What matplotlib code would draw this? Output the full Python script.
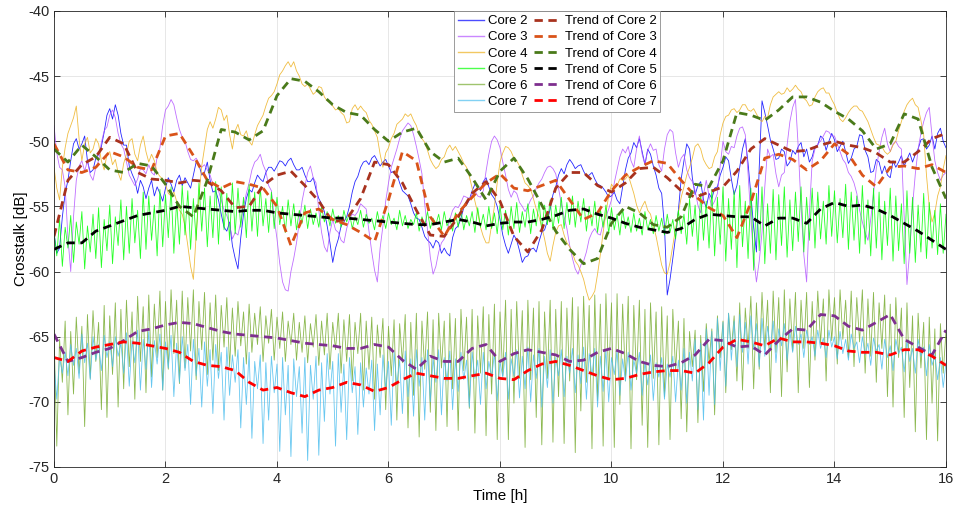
import numpy as np
import matplotlib
matplotlib.use("Agg")
import matplotlib.pyplot as plt

plt.rcParams.update({
    "font.family": ["Liberation Sans", "DejaVu Sans"],
    "font.size": 10,
    "axes.linewidth": 0.6,
    "axes.edgecolor": "#262626",
    "axes.unicode_minus": False,
    "xtick.color": "#262626",
    "ytick.color": "#262626",
})

# ---- data ----
# every curve of the raw cores: readings on the 0.1 h grid (0 ... 16 h)
# plus readings in between (0.05, 0.15, ... 15.95 h)
core2 = [
    -57.0, -58.2, -54.0, -51.5, -49.8, -50.2, -51.5, -52.2, -51.0, -49.3,
    -47.5, -47.2, -49.4, -50.3, -52.5, -54.0, -53.5, -53.6, -54.2, -54.0,
    -53.6, -53.3, -53.0, -53.4, -53.2, -52.6, -51.8, -52.4, -53.0, -53.8,
    -55.6, -56.9, -58.0, -59.8, -55.6, -53.7, -53.2, -52.9, -52.4, -52.0,
    -51.9, -51.6, -51.5, -51.8, -52.2, -52.6, -53.1, -53.7, -54.8, -56.5,
    -59.3, -57.5, -56.2, -55.0, -53.1, -52.0, -51.5, -51.3, -51.5, -51.6,
    -51.9, -52.3, -53.2, -54.0, -54.8, -55.9, -56.6, -57.6, -58.2, -57.8,
    -58.2, -58.8, -56.7, -55.9, -54.9, -53.8, -53.4, -53.1, -53.5, -54.4,
    -56.0, -58.0, -57.9, -57.6, -59.3, -58.8, -58.2, -57.7, -56.8, -55.2,
    -53.5, -52.1, -51.8, -51.7, -51.9, -52.3, -52.6, -52.9, -53.4, -53.9,
    -54.2, -54.5, -53.5, -51.3, -50.1, -49.8, -51.8, -51.0, -52.6, -54.0,
    -61.8, -59.0, -55.3, -51.5, -50.6, -54.1, -53.1, -55.1, -54.4, -53.5,
    -52.0, -51.5, -54.1, -52.0, -49.8, -54.1, -58.5, -46.9, -48.8, -50.6,
    -51.3, -50.8, -51.6, -51.0, -50.1, -50.6, -51.2, -50.3, -49.8, -50.0,
    -49.9, -50.4, -50.8, -51.3, -50.4, -49.6, -51.2, -52.3, -51.6, -51.9,
    -52.8, -52.0, -51.1, -51.4, -51.6, -50.6, -49.8, -50.3, -50.6, -49.0,
    -50.5,
]
core2_mid = [
    -58.6, -55.8, -53.0, -50.2, -50.6, -49.6, -52.4, -51.3, -50.4, -48.0,
    -48.3, -48.0, -50.3, -51.9, -53.0, -53.0, -54.4, -53.0, -53.5, -54.6,
    -52.8, -53.9, -52.6, -52.8, -53.6, -51.6, -52.6, -51.6, -53.9, -54.5,
    -56.6, -56.2, -59.0, -57.4, -54.4, -53.9, -52.6, -53.1, -52.0, -52.3,
    -51.5, -51.9, -51.3, -52.2, -52.0, -53.1, -52.8, -54.4, -55.4, -57.8,
    -58.2, -56.5, -55.8, -53.9, -52.7, -51.6, -51.8, -51.1, -51.9, -51.4,
    -52.4, -52.5, -53.8, -54.2, -55.5, -56.0, -57.3, -57.8, -57.6, -58.6,
    -58.6, -57.4, -56.5, -55.1, -54.5, -53.3, -53.8, -52.8, -54.1, -55.0,
    -57.2, -58.6, -57.2, -58.4, -58.9, -58.3, -58.5, -57.0, -56.1, -54.1,
    -52.6, -52.5, -51.4, -52.1, -51.8, -52.7, -52.4, -53.3, -53.6, -54.3,
    -53.9, -54.8, -52.2, -50.9, -50.5, -50.8, -50.6, -51.9, -53.6, -56.5,
    -60.6, -57.3, -52.9, -50.2, -52.8, -53.4, -54.5, -54.0, -53.6, -52.6,
    -51.2, -52.9, -53.4, -50.6, -51.7, -56.6, -52.0, -47.8, -49.9, -51.4,
    -50.6, -51.9, -50.7, -50.4, -51.2, -51.6, -50.4, -49.6, -50.7, -49.4,
    -50.8, -50.0, -51.7, -50.6, -49.5, -50.7, -52.4, -51.4, -52.5, -52.6,
    -51.5, -51.6, -51.9, -50.9, -51.0, -49.9, -50.6, -49.6, -49.4, -50.0,
]
core3 = [
    -48.8, -52.0, -53.5, -60.0, -53.0, -51.5, -51.5, -53.0, -51.5, -49.2,
    -48.0, -48.2, -50.2, -51.6, -53.0, -52.9, -52.2, -51.8, -52.6, -50.5,
    -47.6, -46.8, -48.2, -49.7, -50.8, -51.5, -51.7, -51.8, -52.6, -53.4,
    -54.5, -55.7, -57.5, -57.2, -55.0, -53.2, -51.6, -51.0, -52.3, -53.8,
    -57.5, -60.8, -61.5, -59.0, -56.2, -53.5, -51.9, -53.2, -57.0, -58.5,
    -56.0, -57.0, -57.8, -56.0, -55.7, -54.8, -55.2, -58.5, -60.8, -56.5,
    -53.2, -51.3, -49.8, -48.9, -48.8, -50.4, -52.5, -56.8, -60.2, -58.5,
    -57.5, -56.0, -55.0, -54.7, -54.3, -54.1, -54.2, -53.8, -51.0, -49.6,
    -50.5, -52.6, -54.3, -54.0, -55.0, -55.0, -54.2, -53.2, -52.4, -51.9,
    -52.5, -54.8, -56.7, -59.0, -60.2, -59.2, -57.5, -56.7, -57.2, -55.8,
    -54.5, -52.2, -50.6, -50.4, -52.0, -49.6, -51.8, -50.2, -50.6, -52.3,
    -49.5, -49.3, -52.0, -51.0, -52.8, -53.8, -55.5, -53.0, -55.0, -54.0,
    -50.0, -51.0, -50.5, -49.0, -49.5, -56.0, -60.8, -57.0, -50.6, -51.0,
    -53.5, -52.4, -48.5, -46.8, -55.0, -60.8, -51.5, -50.2, -49.6, -49.3,
    -49.6, -50.8, -51.7, -52.7, -54.0, -56.2, -57.6, -54.0, -50.8, -49.0,
    -50.8, -50.0, -50.6, -61.0, -55.0, -50.6, -48.5, -47.4, -51.5, -53.0,
    -52.4,
]
core3_mid = [
    -50.9, -52.2, -57.4, -55.8, -51.9, -52.3, -52.6, -52.0, -50.1, -48.9,
    -47.6, -49.4, -50.6, -52.6, -53.4, -52.1, -52.5, -52.4, -51.2, -48.8,
    -47.3, -47.2, -49.1, -50.0, -51.4, -51.3, -52.0, -52.2, -53.3, -53.8,
    -55.3, -56.4, -57.0, -56.2, -54.0, -52.2, -51.4, -51.8, -53.4, -55.9,
    -59.4, -61.4, -60.0, -57.8, -54.6, -52.4, -52.8, -55.3, -58.1, -57.0,
    -56.8, -57.6, -56.7, -55.6, -55.4, -55.0, -56.9, -59.9, -58.2, -54.6,
    -52.0, -50.6, -49.2, -48.6, -49.5, -51.4, -54.8, -58.9, -59.6, -57.8,
    -56.9, -55.3, -55.1, -54.2, -54.4, -53.8, -54.3, -52.3, -50.0, -49.9,
    -51.6, -53.7, -53.8, -54.7, -55.4, -54.5, -53.6, -52.9, -52.0, -52.1,
    -53.6, -55.8, -58.0, -59.8, -59.5, -58.5, -57.0, -57.1, -56.3, -55.2,
    -53.2, -51.2, -50.9, -51.5, -50.6, -51.0, -50.7, -50.7, -51.8, -50.6,
    -49.1, -50.9, -51.3, -52.2, -53.1, -54.9, -54.1, -54.2, -54.6, -51.9,
    -50.8, -50.4, -49.6, -48.9, -52.5, -58.9, -59.2, -53.5, -51.2, -52.5,
    -52.6, -50.3, -47.4, -50.5, -58.7, -55.5, -50.6, -50.0, -49.2, -49.6,
    -50.2, -51.4, -52.4, -53.2, -55.3, -57.0, -56.0, -52.1, -49.7, -50.2,
    -50.2, -50.4, -55.8, -58.4, -52.5, -49.4, -47.8, -49.6, -52.4, -52.6,
]
core4 = [
    -52.0, -54.5, -50.5, -48.8, -47.3, -51.5, -49.7, -50.6, -50.2, -52.2,
    -50.8, -51.4, -53.0, -51.0, -49.8, -51.5, -49.6, -51.6, -51.5, -52.7,
    -53.3, -54.2, -54.6, -55.6, -58.0, -60.6, -54.2, -50.5, -48.5, -48.3,
    -47.6, -48.0, -50.6, -48.7, -49.6, -50.0, -49.5, -48.4, -47.3, -46.5,
    -45.6, -44.6, -43.9, -43.9, -45.0, -45.8, -46.0, -46.2, -45.9, -46.9,
    -47.3, -47.5, -48.0, -48.5, -47.2, -47.3, -47.8, -48.7, -49.7, -52.0,
    -50.5, -49.4, -48.5, -47.9, -47.9, -48.8, -49.8, -50.7, -51.8, -51.9,
    -51.2, -50.3, -50.4, -51.2, -52.0, -53.6, -55.5, -57.3, -57.8, -55.0,
    -51.6, -50.4, -50.8, -51.5, -52.6, -53.4, -54.4, -55.8, -57.5, -59.2,
    -57.0, -56.4, -57.8, -58.6, -59.5, -60.6, -62.2, -61.5, -58.7, -55.5,
    -53.3, -53.4, -53.0, -52.6, -54.0, -55.5, -54.6, -55.6, -57.3, -59.5,
    -60.2, -58.0, -55.5, -53.5, -52.0, -50.4, -50.6, -51.8, -52.0, -50.8,
    -48.6, -48.0, -47.5, -47.6, -47.2, -47.7, -47.9, -48.5, -48.2, -46.6,
    -46.2, -46.3, -46.2, -45.7, -46.2, -46.9, -47.2, -46.2, -45.9, -46.3,
    -47.2, -48.3, -48.2, -47.5, -47.3, -47.7, -48.5, -49.7, -50.3, -50.8,
    -50.8, -50.0, -48.5, -47.2, -46.7, -47.4, -49.5, -55.0, -55.5, -53.5,
    -51.1,
]
core4_mid = [
    -53.6, -52.0, -49.4, -48.2, -49.8, -50.2, -50.9, -49.8, -51.5, -51.0,
    -51.8, -52.4, -51.7, -50.0, -51.0, -50.3, -50.8, -51.0, -52.4, -52.9,
    -54.0, -53.9, -55.3, -56.5, -59.6, -57.2, -51.9, -49.1, -49.0, -47.4,
    -48.4, -49.5, -49.2, -49.5, -49.2, -50.3, -48.8, -48.0, -46.7, -46.2,
    -44.9, -44.2, -44.3, -44.6, -45.6, -45.6, -46.4, -45.8, -46.6, -47.0,
    -47.6, -47.8, -48.6, -47.5, -47.6, -47.6, -48.4, -49.2, -51.0, -50.9,
    -49.8, -48.7, -48.3, -48.1, -48.4, -49.5, -50.1, -51.4, -52.1, -51.4,
    -50.6, -50.7, -50.8, -51.7, -52.7, -54.6, -56.6, -57.8, -56.4, -53.2,
    -50.9, -50.5, -51.3, -51.9, -53.2, -53.7, -55.2, -56.6, -58.6, -58.0,
    -56.5, -57.2, -58.1, -59.2, -60.0, -61.5, -61.9, -60.2, -57.0, -54.2,
    -53.6, -52.9, -52.9, -53.3, -54.9, -55.0, -55.3, -56.5, -58.4, -60.1,
    -59.3, -56.7, -54.3, -52.6, -51.3, -50.2, -51.4, -52.1, -51.2, -49.5,
    -48.1, -47.6, -47.8, -47.2, -47.6, -47.5, -48.3, -48.1, -47.2, -46.4,
    -46.4, -45.9, -46.0, -46.0, -46.7, -47.3, -46.6, -46.0, -46.3, -46.8,
    -47.8, -48.5, -47.8, -47.3, -47.6, -48.1, -49.1, -50.2, -50.4, -51.0,
    -50.3, -49.2, -47.7, -46.9, -47.2, -48.4, -52.6, -56.2, -54.2, -52.1,
]

# fast-fluctuating cores: peaks at 0, 0.1, ... 16 h and dips at 0.05, 0.15, ... 15.95 h
core5_peaks = [
    -57.0, -56.0, -56.6, -55.7, -56.2, -55.4, -56.5, -55.6, -55.1, -56.0,
    -54.9, -55.8, -54.5, -55.0, -54.4, -55.3, -53.9, -54.2, -54.9, -53.7,
    -54.1, -53.5, -54.6, -53.4, -53.8, -54.4, -53.2, -53.6, -54.2, -53.1,
    -53.5, -54.0, -53.2, -53.6, -54.3, -53.3, -53.9, -53.5, -54.4, -53.9,
    -54.3, -55.0, -54.5, -54.8, -55.3, -54.9, -55.2, -55.5, -55.0, -55.4,
    -55.2, -55.7, -55.3, -55.5, -55.8, -55.3, -55.6, -55.9, -55.4, -55.7,
    -55.5, -55.9, -55.3, -55.7, -56.0, -55.5, -55.8, -55.4, -55.9, -55.6,
    -55.4, -55.9, -55.5, -55.2, -55.7, -55.4, -55.1, -55.6, -55.0, -55.5,
    -54.9, -55.3, -55.0, -54.7, -55.4, -54.8, -55.2, -54.6, -54.9, -54.5,
    -54.9, -54.3, -54.7, -54.2, -54.6, -54.4, -55.0, -54.6, -55.2, -54.9,
    -55.1, -55.6, -55.2, -55.8, -55.5, -55.9, -55.4, -56.0, -55.7, -55.9,
    -55.6, -56.0, -55.3, -55.6, -54.4, -54.9, -54.0, -54.6, -53.7, -54.3,
    -53.5, -54.4, -53.8, -53.4, -54.6, -53.6, -54.0, -53.5, -54.8, -53.7,
    -54.1, -53.5, -54.5, -53.9, -53.5, -54.3, -53.6, -53.9, -54.6, -53.4,
    -53.8, -54.4, -53.3, -53.9, -54.2, -53.4, -54.5, -53.6, -53.9, -54.6,
    -53.6, -54.2, -54.8, -53.8, -54.3, -54.9, -54.0, -54.7, -55.3, -54.8,
    -55.6,
]
core5_dips = [
    -58.8, -59.6, -58.2, -59.3, -57.9, -59.8, -58.5, -59.0, -59.7, -58.4,
    -59.4, -58.0, -59.1, -58.6, -57.8, -59.0, -58.3, -57.6, -58.8, -58.1,
    -57.4, -58.6, -57.9, -57.2, -58.3, -57.6, -56.9, -58.1, -57.4, -57.9,
    -56.8, -57.6, -57.1, -56.6, -57.4, -56.9, -57.3, -56.5, -57.0, -56.7,
    -56.4, -57.0, -56.5, -56.8, -56.3, -56.7, -56.4, -56.6, -56.2, -56.5,
    -56.3, -56.6, -56.2, -56.7, -56.4, -56.6, -56.3, -56.8, -56.5, -56.7,
    -56.4, -56.8, -56.5, -56.7, -56.4, -56.9, -56.5, -56.7, -56.4, -56.8,
    -56.5, -56.9, -56.6, -56.8, -56.5, -57.0, -56.6, -56.8, -56.7, -57.1,
    -56.8, -57.2, -56.7, -57.0, -56.6, -57.1, -56.5, -56.9, -56.4, -56.8,
    -56.3, -56.7, -56.4, -56.6, -56.2, -56.9, -56.5, -57.0, -56.6, -57.1,
    -56.8, -57.2, -56.7, -57.0, -56.9, -57.2, -56.8, -57.1, -56.9, -57.2,
    -57.0, -57.5, -57.1, -57.9, -57.3, -58.4, -57.6, -58.2, -58.8, -57.9,
    -59.2, -58.3, -59.7, -58.1, -59.0, -59.9, -58.4, -59.4, -58.6, -59.1,
    -58.0, -58.9, -58.4, -57.7, -58.5, -57.6, -58.2, -57.5, -57.9, -57.3,
    -57.8, -57.4, -58.3, -57.6, -58.6, -57.9, -58.8, -58.2, -59.1, -58.0,
    -59.2, -58.4, -59.4, -58.6, -59.3, -58.5, -59.0, -58.2, -58.7, -58.6,
]
core6_peaks = [
    -64.5, -65.2, -63.8, -64.6, -63.5, -64.2, -63.3, -63.0, -63.9, -62.6,
    -63.4, -62.4, -62.9, -62.2, -63.1, -61.9, -62.7, -61.8, -62.5, -61.5,
    -62.3, -61.4, -62.2, -61.5, -62.0, -61.4, -62.3, -61.6, -62.4, -61.8,
    -62.6, -62.0, -62.8, -62.3, -63.1, -62.5, -63.2, -62.7, -63.4, -62.9,
    -63.5, -63.1, -63.8, -63.2, -63.9, -63.4, -64.0, -63.3, -63.8, -63.2,
    -63.9, -63.2, -63.7, -63.3, -63.9, -63.2, -63.8, -63.5, -64.1, -63.6,
    -64.2, -63.7, -64.0, -63.3, -63.9, -63.2, -63.8, -63.1, -63.7, -63.2,
    -63.8, -63.2, -63.6, -62.9, -63.5, -62.9, -63.4, -62.7, -63.3, -62.5,
    -63.1, -62.2, -62.9, -62.3, -63.0, -62.2, -62.8, -62.3, -63.1, -62.2,
    -62.9, -62.3, -62.8, -62.0, -62.7, -61.9, -62.6, -61.8, -62.5, -61.7,
    -62.4, -61.7, -62.5, -61.9, -62.6, -62.2, -62.9, -62.4, -63.1, -62.7,
    -63.4, -62.9, -63.8, -63.6, -64.6, -64.5, -64.9, -64.0, -64.4, -63.4,
    -63.8, -63.2, -63.4, -62.4, -62.8, -61.9, -62.4, -61.6, -62.2, -61.5,
    -62.0, -61.4, -62.1, -61.6, -62.2, -61.6, -62.3, -61.5, -62.1, -61.4,
    -62.0, -61.4, -62.2, -61.5, -62.0, -61.4, -62.1, -61.6, -62.4, -61.8,
    -62.5, -62.0, -62.8, -62.4, -63.4, -63.2, -63.9, -63.5, -64.4, -64.0,
    -64.6,
]
core6_dips = [
    -73.4, -68.5, -71.0, -69.4, -67.8, -71.9, -68.2, -66.9, -70.6, -71.2,
    -67.9, -70.4, -69.0, -67.3, -69.8, -66.9, -69.3, -68.1, -66.6, -69.1,
    -67.5, -66.3, -68.6, -67.4, -66.1, -68.3, -66.0, -67.9, -66.8, -67.6,
    -65.8, -67.3, -66.5, -65.7, -67.1, -66.2, -65.6, -66.9, -65.5, -66.8,
    -65.9, -66.9, -65.6, -66.8, -66.2, -67.0, -65.8, -67.2, -66.4, -67.5,
    -66.0, -67.8, -66.9, -68.4, -66.3, -69.1, -67.5, -69.8, -66.6, -70.6,
    -68.0, -71.4, -67.0, -72.0, -69.5, -72.7, -67.5, -70.8, -72.2, -67.4,
    -71.9, -69.0, -72.2, -67.6, -70.5, -72.4, -67.8, -72.6, -69.4, -72.9,
    -68.0, -72.9, -70.1, -68.2, -73.5, -68.3, -71.2, -73.3, -68.2, -73.1,
    -69.6, -73.2, -68.4, -73.9, -70.7, -68.5, -73.6, -69.9, -73.4, -68.3,
    -73.5, -70.2, -68.4, -73.6, -68.3, -71.8, -73.5, -68.2, -73.3, -69.6,
    -72.9, -67.6, -71.3, -72.3, -67.3, -71.6, -69.2, -67.0, -71.0, -66.6,
    -69.3, -66.0, -68.4, -69.1, -65.9, -69.0, -67.5, -66.0, -69.3, -66.2,
    -69.6, -67.7, -66.1, -69.3, -65.9, -68.9, -66.8, -65.5, -68.4, -65.3,
    -67.1, -65.2, -66.6, -67.3, -65.4, -67.8, -66.5, -68.5, -65.9, -69.6,
    -70.4, -66.6, -71.2, -68.9, -72.3, -67.4, -72.9, -70.1, -73.0, -67.8,
]
core7_peaks = [
    -67.0, -66.6, -66.2, -65.6, -65.9, -64.8, -65.5, -65.0, -65.6, -64.9,
    -65.4, -65.0, -65.5, -64.7, -65.3, -64.5, -65.2, -64.6, -65.3, -64.8,
    -65.4, -64.9, -65.5, -65.0, -65.6, -65.2, -65.9, -65.4, -66.0, -65.6,
    -66.2, -65.8, -66.4, -66.0, -66.6, -66.2, -66.9, -66.4, -67.0, -66.5,
    -67.1, -66.6, -67.2, -66.7, -67.3, -66.6, -67.2, -66.5, -67.0, -66.3,
    -66.9, -66.3, -67.1, -66.6, -67.3, -67.0, -67.4, -66.8, -67.1, -66.4,
    -66.9, -66.2, -66.8, -66.1, -66.7, -66.0, -66.6, -66.0, -66.7, -66.0,
    -66.6, -66.1, -66.7, -66.2, -66.8, -66.2, -66.8, -66.2, -66.9, -66.3,
    -66.9, -66.2, -66.7, -66.0, -66.5, -65.8, -66.4, -65.9, -66.5, -66.0,
    -66.6, -66.0, -66.5, -65.9, -66.4, -65.8, -66.3, -65.9, -66.5, -66.0,
    -66.6, -66.1, -66.7, -66.2, -66.8, -66.2, -66.9, -66.4, -67.0, -66.6,
    -67.1, -66.5, -66.8, -65.9, -66.2, -65.2, -65.5, -64.4, -64.6, -63.6,
    -63.9, -63.2, -63.8, -63.3, -63.9, -63.4, -64.0, -63.6, -64.2, -63.8,
    -64.4, -64.0, -64.6, -64.2, -64.8, -64.5, -65.0, -64.5, -65.1, -64.5,
    -65.0, -64.6, -65.2, -64.8, -65.4, -65.0, -65.5, -65.1, -65.6, -65.2,
    -65.7, -65.2, -65.8, -65.3, -65.9, -65.2, -65.8, -65.6, -66.4, -66.6,
    -67.0,
]
core7_dips = [
    -69.8, -67.8, -68.0, -67.2, -68.2, -67.0, -68.3, -66.8, -67.6, -66.6,
    -67.3, -66.5, -67.8, -68.8, -67.0, -69.1, -67.5, -68.9, -67.1, -69.1,
    -67.4, -69.6, -68.5, -67.6, -70.2, -68.0, -70.4, -68.8, -70.9, -68.2,
    -71.4, -69.5, -68.5, -72.0, -70.2, -72.8, -69.0, -73.2, -71.4, -69.3,
    -73.8, -71.0, -74.2, -69.6, -72.4, -74.5, -69.8, -74.1, -71.5, -69.4,
    -73.4, -70.8, -72.9, -69.3, -72.5, -70.4, -69.4, -72.2, -71.0, -69.0,
    -71.8, -68.7, -70.9, -69.6, -71.1, -68.8, -71.4, -70.0, -68.5, -71.0,
    -68.4, -70.6, -69.2, -68.3, -70.4, -68.2, -70.2, -69.0, -68.1, -69.9,
    -68.1, -69.8, -68.0, -69.7, -69.0, -70.0, -68.2, -70.4, -68.9, -70.1,
    -68.0, -69.6, -67.8, -69.3, -68.6, -69.8, -68.0, -70.4, -69.2, -70.0,
    -67.9, -69.5, -68.4, -69.1, -67.8, -69.5, -68.7, -69.9, -68.1, -69.8,
    -68.1, -70.0, -69.1, -70.1, -68.4, -70.6, -71.4, -69.5, -70.2, -67.6,
    -68.8, -66.8, -67.3, -66.2, -67.1, -66.0, -67.3, -66.5, -65.9, -67.0,
    -65.7, -66.8, -66.2, -65.6, -66.6, -65.6, -66.5, -65.9, -66.6, -65.8,
    -66.7, -66.3, -66.8, -65.9, -67.0, -66.4, -67.2, -66.1, -67.5, -66.6,
    -67.6, -66.3, -67.7, -66.9, -67.8, -66.5, -68.0, -67.2, -68.3, -68.9,
]

# trend curves sampled every 0.25 h
trend2 = [
    -57.3, -53.0, -51.8, -51.2, -49.7, -50.2, -52.4, -52.9, -53.0, -53.2,
    -53.0, -53.1, -53.8, -55.1, -55.0, -53.4, -52.6, -52.3, -53.4, -54.6,
    -56.2, -56.0, -54.4, -51.6, -51.8, -53.2, -55.3, -57.2, -57.3, -55.8,
    -54.0, -53.1, -54.6, -57.3, -58.5, -56.8, -53.6, -52.4, -52.4, -53.4,
    -53.9, -53.2, -52.1, -52.0, -52.8, -53.8, -54.3, -53.9, -53.5, -52.3,
    -50.6, -49.8, -50.3, -50.8, -50.7, -50.3, -50.0, -50.3, -50.5, -50.9,
    -51.6, -51.6, -50.8, -49.8, -49.4,
]
trend3 = [
    -50.2, -52.2, -52.4, -52.0, -50.8, -51.2, -52.0, -52.2, -49.6, -49.4,
    -51.1, -53.0, -53.6, -53.1, -53.3, -53.6, -55.0, -58.0, -55.5, -55.2,
    -56.0, -56.4, -57.0, -57.7, -54.5, -50.8, -51.5, -55.8, -57.3, -55.5,
    -54.3, -53.2, -52.5, -53.6, -53.8, -53.4, -53.0, -54.5, -56.0, -55.5,
    -53.8, -52.6, -52.0, -51.5, -51.7, -53.0, -54.2, -55.1, -55.7, -57.4,
    -54.7, -51.3, -51.0, -51.4, -52.2, -51.5, -50.2, -51.0, -52.6, -53.5,
    -52.0, -51.9, -52.1, -51.8, -52.4,
]
trend4 = [
    -50.6, -51.6, -50.3, -51.2, -52.2, -52.4, -51.7, -51.9, -53.3, -55.0,
    -55.8, -53.0, -49.1, -49.3, -49.9, -49.2, -46.5, -45.2, -45.4, -46.2,
    -47.2, -47.8, -48.0, -49.1, -50.0, -49.3, -49.0, -50.8, -51.6, -51.3,
    -52.8, -54.5, -52.3, -51.3, -52.9, -54.9, -56.9, -58.3, -59.4, -59.0,
    -56.3, -55.0, -55.5, -56.4, -56.6, -55.8, -53.3, -53.5, -51.5, -47.8,
    -48.0, -48.4, -47.6, -46.6, -46.6, -47.0, -47.7, -48.3, -49.2, -50.6,
    -50.2, -47.9, -48.3, -52.0, -54.4,
]
trend5 = [
    -58.3, -57.8, -57.8, -56.9, -56.5, -56.1, -55.7, -55.5, -55.3, -55.0,
    -55.1, -55.2, -55.3, -55.4, -55.3, -55.3, -55.5, -55.6, -55.7, -55.8,
    -55.9, -55.9, -56.0, -56.1, -56.2, -56.3, -56.4, -56.4, -56.2, -56.0,
    -56.2, -56.5, -56.3, -56.2, -56.2, -56.0, -55.7, -55.3, -55.2, -55.6,
    -55.9, -56.3, -56.6, -56.8, -57.0, -56.7, -56.0, -55.6, -55.7, -55.8,
    -55.8, -56.5, -55.9, -55.9, -56.3, -55.2, -54.7, -55.0, -54.9, -55.2,
    -55.7, -56.3, -56.9, -57.6, -58.3,
]
trend6 = [
    -64.8, -66.9, -66.6, -66.2, -65.9, -65.3, -64.6, -64.4, -64.1, -63.9,
    -64.0, -64.3, -64.6, -64.8, -64.9, -65.0, -65.1, -65.3, -65.5, -65.6,
    -65.7, -65.9, -65.9, -65.6, -65.8, -66.8, -67.5, -66.5, -66.9, -66.9,
    -65.9, -65.6, -66.9, -66.3, -66.0, -66.2, -66.4, -66.9, -66.8, -66.2,
    -65.9, -66.3, -66.9, -67.2, -67.3, -67.0, -66.4, -65.2, -65.3, -65.8,
    -65.7, -66.4, -65.3, -64.4, -64.5, -63.3, -63.4, -64.2, -64.5, -63.9,
    -63.3, -65.2, -65.8, -66.4, -64.5,
]
trend7 = [
    -66.6, -66.9, -66.1, -65.8, -65.6, -65.4, -65.5, -65.7, -65.9, -66.2,
    -66.9, -67.2, -67.3, -67.6, -68.5, -69.1, -68.9, -69.3, -69.6, -69.1,
    -68.9, -68.5, -68.7, -69.2, -68.9, -68.3, -67.8, -68.0, -68.2, -68.2,
    -68.0, -67.8, -68.2, -68.3, -67.6, -67.1, -66.9, -67.2, -67.6, -68.0,
    -68.3, -68.2, -67.9, -67.7, -67.6, -67.6, -67.8, -67.0, -65.8, -65.2,
    -65.4, -65.7, -65.1, -65.4, -65.4, -65.5, -65.7, -66.1, -66.2, -66.2,
    -66.4, -66.0, -66.0, -66.5, -67.2,
]


def interleave(on_grid, between):
    y = np.empty(len(on_grid) + len(between))
    y[0::2] = on_grid
    y[1::2] = between
    return y


raw_series = [
    interleave(core2, core2_mid),
    interleave(core3, core3_mid),
    interleave(core4, core4_mid),
    interleave(core5_peaks, core5_dips),
    interleave(core6_peaks, core6_dips),
    interleave(core7_peaks, core7_dips),
]
trends = [trend2, trend3, trend4, trend5, trend6, trend7]
t_fine = np.linspace(0, 16, len(raw_series[0]))
t_trend = np.linspace(0, 16, len(trend2))

raw_colors = ["#0000ff", "#b455ff", "#edb120", "#00ff00", "#77ac30", "#4dbeee"]
trend_colors = ["#a8321e", "#d95319", "#4a7a1a", "#000000", "#7e2f8e", "#ff0000"]

fig = plt.figure(figsize=(9.54, 5.13), dpi=100)
ax = fig.add_axes([0.0566, 0.0897, 0.935, 0.889])

raw_handles = []
for i, yy in enumerate(raw_series):
    h, = ax.plot(t_fine, yy, color=raw_colors[i], lw=0.6, alpha=0.85,
                 label=f"Core {i + 2}")
    raw_handles.append(h)

trend_handles = []
for i, yy in enumerate(trends):
    h, = ax.plot(t_trend, yy, color=trend_colors[i], lw=2.0,
                 dashes=(3, 2), label=f"Trend of Core {i + 2}")
    trend_handles.append(h)

ax.set_xlim(0, 16)
ax.set_ylim(-75, -40)
ax.set_xticks(np.arange(0, 17, 2))
ax.set_yticks(np.arange(-75, -39, 5))
ax.tick_params(direction="in", top=True, right=True, length=4, width=0.6,
               labelsize=10.5)
ax.grid(True, color="#e3e3e3", lw=0.6)
ax.set_axisbelow(True)
ax.set_xlabel("Time [h]", fontsize=11, labelpad=2)
ax.set_ylabel("Crosstalk [dB]", fontsize=11, labelpad=0)

leg = ax.legend(raw_handles + trend_handles,
                [h.get_label() for h in raw_handles + trend_handles],
                ncol=2, loc="upper center", bbox_to_anchor=(0.564, 1.0),
                borderaxespad=0, fontsize=9.5, frameon=True, fancybox=False,
                edgecolor="#8c8c8c", framealpha=1, handlelength=2.0,
                handletextpad=0.3, columnspacing=0.5, labelspacing=0.3,
                borderpad=0.3)
leg.get_frame().set_linewidth(0.6)
for lh in leg.get_lines()[:6]:
    lh.set_alpha(0.7)
    lh.set_linewidth(1.0)

fig.savefig("out.png", dpi=100)
